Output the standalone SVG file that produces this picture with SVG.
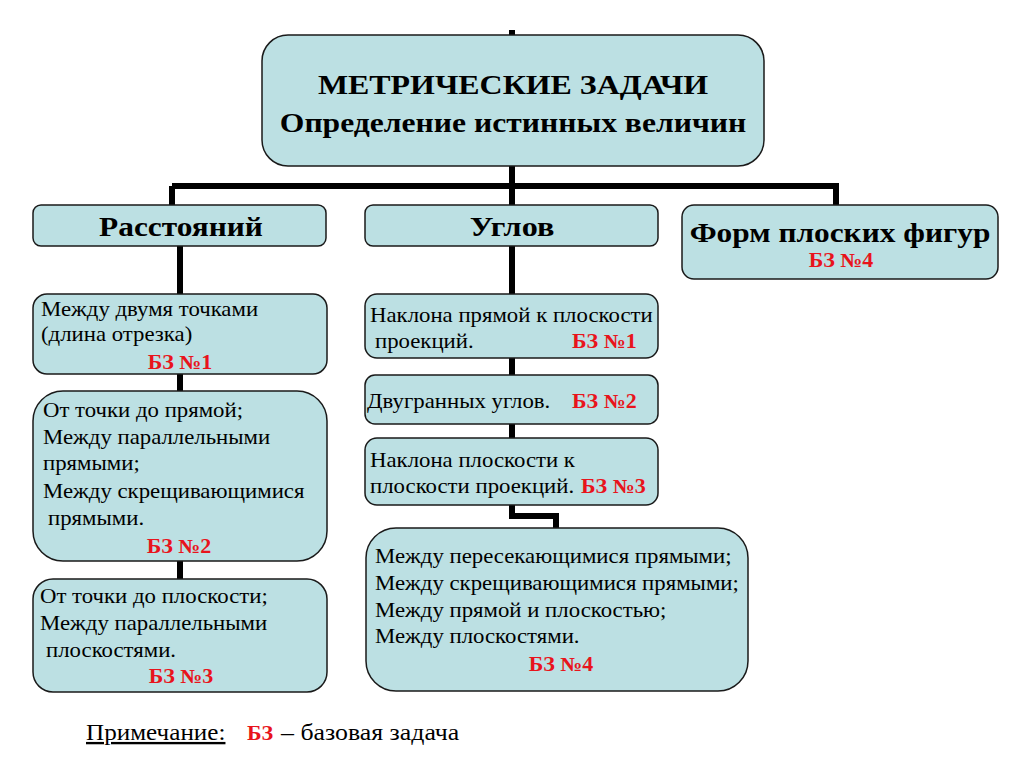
<svg xmlns="http://www.w3.org/2000/svg" width="1024" height="767" viewBox="0 0 1024 767" font-family="Liberation Serif, Times New Roman, serif">
<style>
.box{fill:#bce0e3;stroke:#1a1a1a;stroke-width:1.5}
.b{font-size:21px;fill:#000}
.h{font-size:28px;font-weight:bold;fill:#000}
.r{fill:#e8141c;font-weight:bold;font-size:20px}
.ln{stroke:#000;stroke-width:6;fill:none}
</style>
<rect width="1024" height="767" fill="#fff"/>
<g id="connectors">
<path class="ln" d="M512 30V35M512 166V186M172 186H839M172 186V205M512 186V205M836 186V205"/>
<path class="ln" d="M180 246V294M180 374V391M180 561V579"/>
<path class="ln" d="M512 246V294M512 358V375M512 424V438M512 505V516H556V528"/>
</g>
<g id="root">
<rect class="box" x="262" y="35" width="502" height="131" rx="26"/>
<text class="h" font-size="31" text-anchor="middle" transform="matrix(1.14 0 0 1 513 94)">МЕТРИЧЕСКИЕ ЗАДАЧИ</text>
<text class="h" font-size="31" text-anchor="middle" transform="matrix(1.13 0 0 1 513 132)">Определение истинных величин</text>
</g>
<g id="dist">
<rect class="box" x="33" y="205" width="293" height="41" rx="8"/>
<text class="h" text-anchor="middle" transform="matrix(1.12 0 0 1 181 236)">Расстояний</text>
</g>
<g id="angles">
<rect class="box" x="365" y="205" width="293" height="41" rx="8"/>
<text class="h" text-anchor="middle" transform="matrix(1.15 0 0 1 512 236)">Углов</text>
</g>
<g id="forms">
<rect class="box" x="682" y="205" width="316" height="74" rx="12"/>
<text class="h" text-anchor="middle" transform="matrix(1.12 0 0 1 840 242)">Форм плоских фигур</text>
<text class="r" font-size="21.5" text-anchor="middle" transform="matrix(1.1 0 0 1 841 267)">БЗ №4</text>
</g>
<g id="d1">
<rect class="box" x="33" y="294" width="294" height="80" rx="14"/>
<text class="b" transform="matrix(1.085 0 0 1 41 316)">Между двумя точками</text>
<text class="b" transform="matrix(1.085 0 0 1 41 341)">(длина отрезка)</text>
<text class="r" text-anchor="middle" transform="matrix(1.1 0 0 1 180 369)">БЗ №1</text>
</g>
<g id="d2">
<rect class="box" x="33" y="391" width="294" height="170" rx="30"/>
<text class="b" transform="matrix(1.085 0 0 1 43 417)">От точки до прямой;</text>
<text class="b" transform="matrix(1.085 0 0 1 43 444)">Между параллельными</text>
<text class="b" transform="matrix(1.085 0 0 1 43 470)">прямыми;</text>
<text class="b" transform="matrix(1.085 0 0 1 43 498)">Между скрещивающимися</text>
<text class="b" transform="matrix(1.085 0 0 1 48 525)">прямыми.</text>
<text class="r" text-anchor="middle" transform="matrix(1.1 0 0 1 179 553)">БЗ №2</text>
</g>
<g id="d3">
<rect class="box" x="33" y="579" width="294" height="113" rx="20"/>
<text class="b" transform="matrix(1.085 0 0 1 40 603)">От точки до плоскости;</text>
<text class="b" transform="matrix(1.085 0 0 1 40 630)">Между параллельными</text>
<text class="b" transform="matrix(1.085 0 0 1 46 657)">плоскостями.</text>
<text class="r" text-anchor="middle" transform="matrix(1.1 0 0 1 181 683)">БЗ №3</text>
</g>
<g id="a1">
<rect class="box" x="365" y="294" width="293" height="64" rx="12"/>
<text class="b" transform="matrix(1.085 0 0 1 370 322)">Наклона прямой к плоскости</text>
<text class="b" transform="matrix(1.085 0 0 1 375 348)">проекций.</text>
<text class="r" transform="matrix(1.1 0 0 1 572 348)">БЗ №1</text>
</g>
<g id="a2">
<rect class="box" x="365" y="375" width="293" height="49" rx="10"/>
<text class="b" transform="matrix(1.085 0 0 1 367 408)">Двугранных углов.</text>
<text class="r" transform="matrix(1.1 0 0 1 572 408)">БЗ №2</text>
</g>
<g id="a3">
<rect class="box" x="365" y="438" width="293" height="67" rx="12"/>
<text class="b" transform="matrix(1.085 0 0 1 370 467)">Наклона плоскости к</text>
<text class="b" transform="matrix(1.085 0 0 1 370 493)">плоскости проекций.</text>
<text class="r" transform="matrix(1.1 0 0 1 581 493)">БЗ №3</text>
</g>
<g id="a4">
<rect class="box" x="366" y="528" width="382" height="163" rx="30"/>
<text class="b" transform="matrix(1.085 0 0 1 375 563)">Между пересекающимися прямыми;</text>
<text class="b" transform="matrix(1.085 0 0 1 375 590)">Между скрещивающимися прямыми;</text>
<text class="b" transform="matrix(1.085 0 0 1 375 617)">Между прямой и плоскостью;</text>
<text class="b" transform="matrix(1.085 0 0 1 375 643)">Между плоскостями.</text>
<text class="r" text-anchor="middle" transform="matrix(1.1 0 0 1 561 671)">БЗ №4</text>
</g>
<g id="note">
<text font-size="23.5" fill="#000" text-decoration="underline" transform="matrix(1.07 0 0 1 86 740)">Примечание:</text>
<text class="r" font-size="23.5" transform="matrix(1.1 0 0 1 247 740)">БЗ</text>
<text font-size="23.5" fill="#000" transform="matrix(1.1 0 0 1 281 740)">– базовая задача</text>
</g>
</svg>
